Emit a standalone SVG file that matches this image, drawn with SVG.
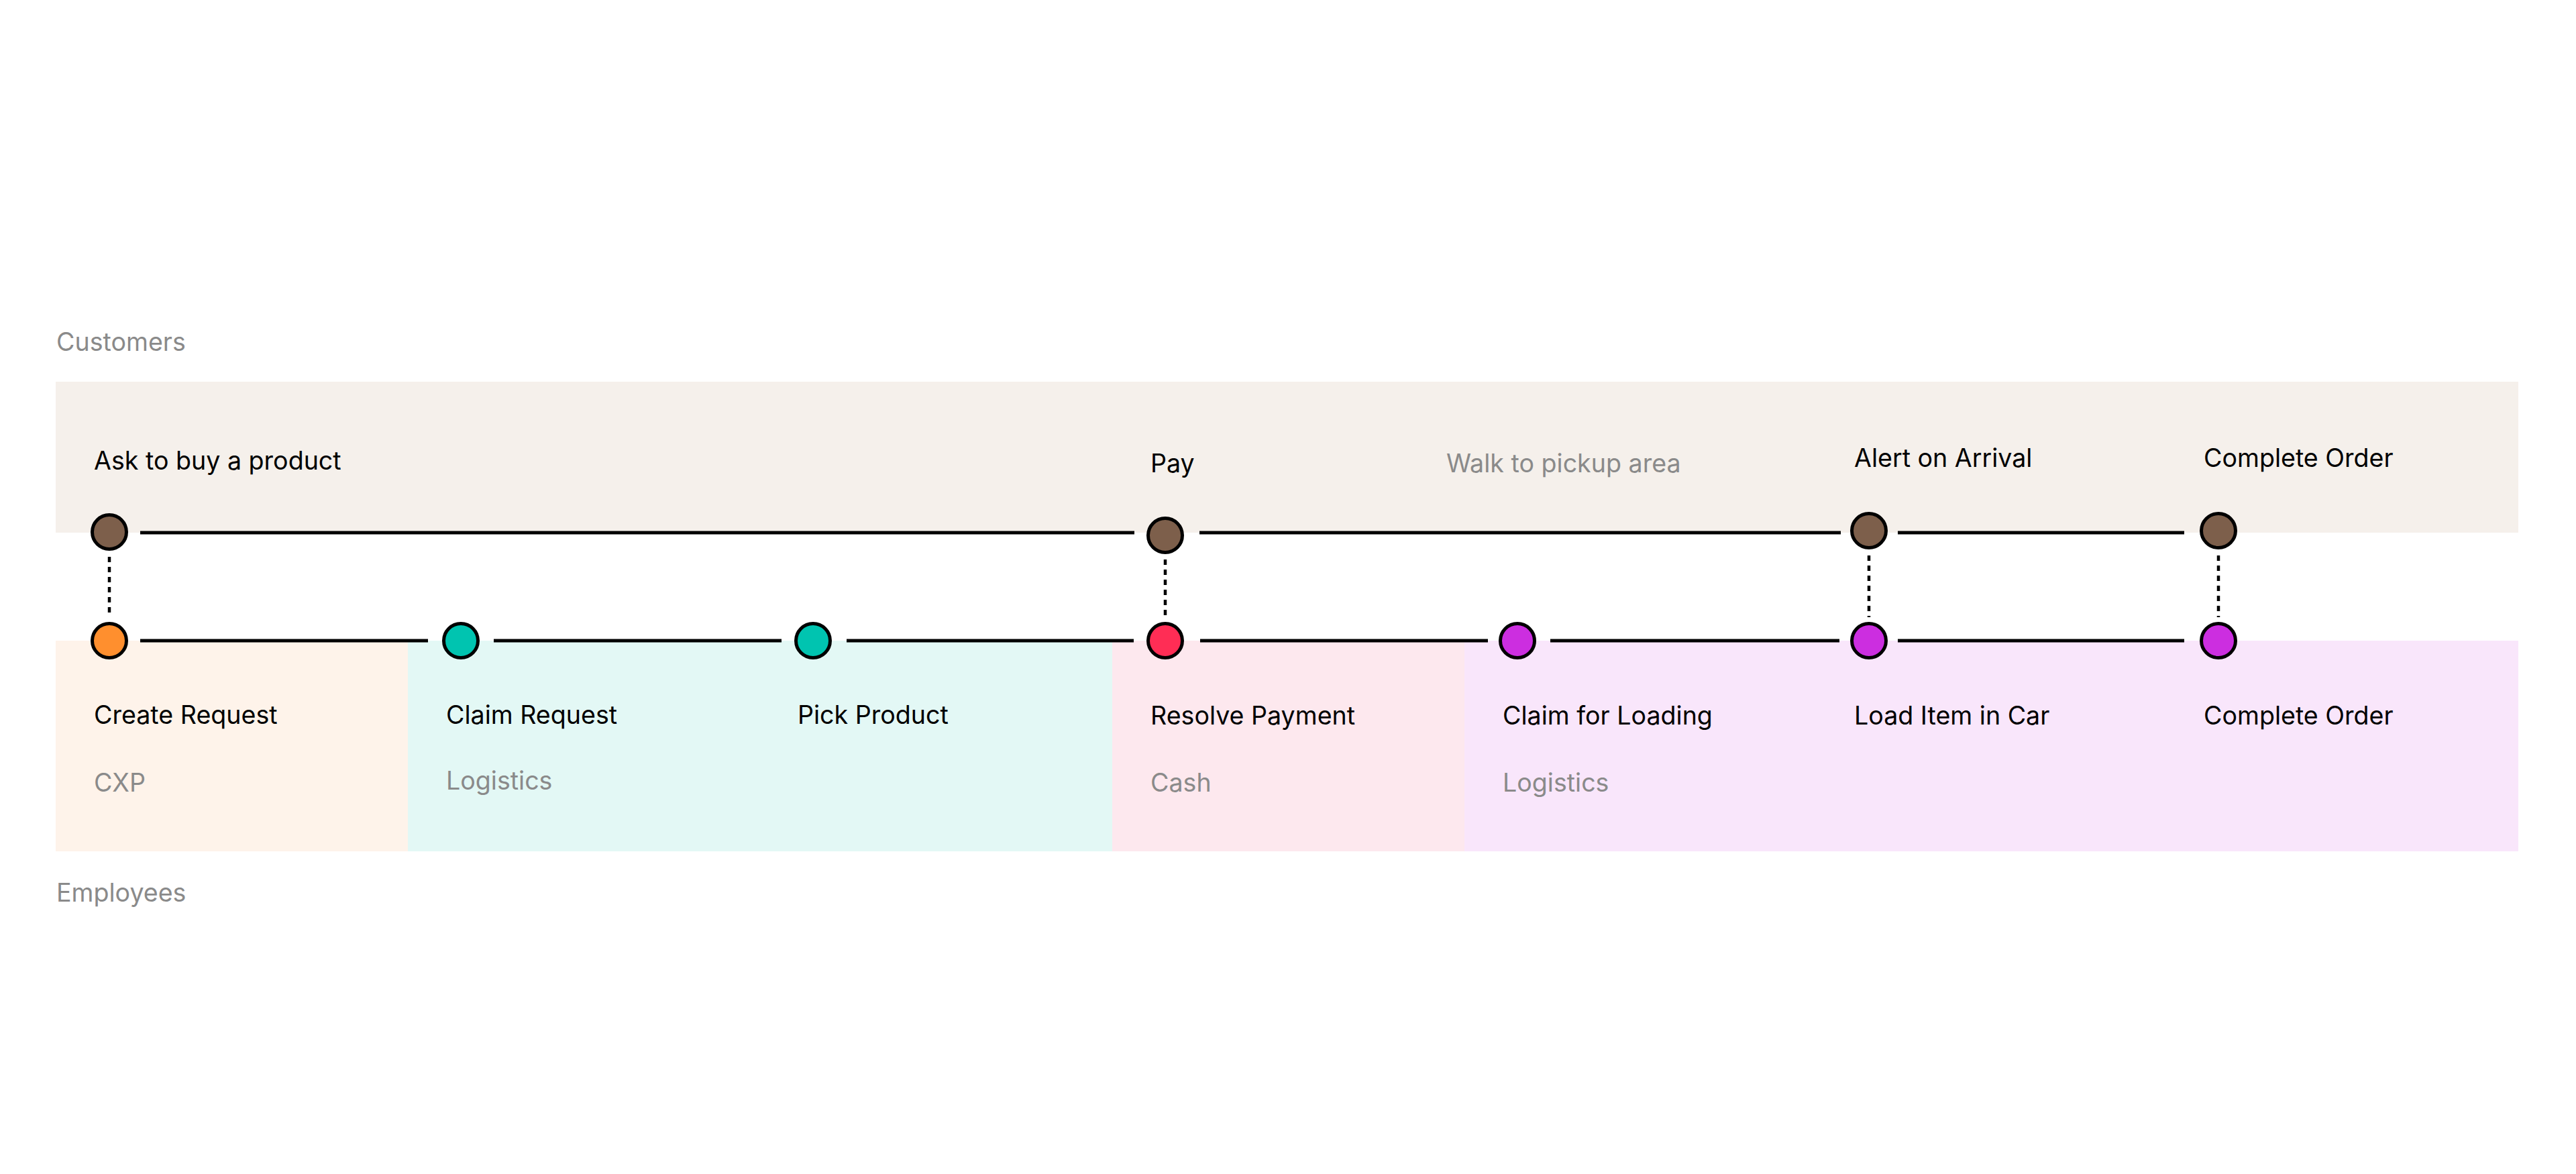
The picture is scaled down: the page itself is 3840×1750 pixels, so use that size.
<svg xmlns="http://www.w3.org/2000/svg" width="3840" height="1750" viewBox="0 0 3840 1750">
<style>
text{font-family:Inter,"Noto Sans","Liberation Sans",sans-serif;font-size:37.6px}
.t{fill:#000}
.g{fill:#8a8a8a}
.node circle{stroke:#000;stroke-width:5}
.brown{fill:#7D5F4B}.orange{fill:#FF8F2E}.teal{fill:#00C4B0}.red{fill:#FF2D55}.purple{fill:#CC2EE0}
.ln{stroke:#000;stroke-width:5;fill:none}
.dot{stroke:#000;stroke-width:4.5;stroke-dasharray:8 7;fill:none}
</style>
<rect width="3840" height="1750" fill="#fff"/>
<g id="lanes">
<rect x="83" y="569" width="3671" height="225" fill="#F5F0EB"/>
<rect x="83" y="955" width="525" height="314" fill="#FEF3EA"/>
<rect x="608" y="955" width="1050" height="314" fill="#E3F8F5"/>
<rect x="1658" y="955" width="525" height="314" fill="#FDE8EE"/>
<rect x="2183" y="955" width="1571" height="314" fill="#F9E6FB"/>
<text class="g" x="84" y="523">Customers</text>
<text class="g" x="84" y="1344">Employees</text>
</g>
<g id="connectors">
<line class="ln" x1="209" y1="794" x2="1691" y2="794"/>
<line class="ln" x1="1788" y1="794" x2="2744" y2="794"/>
<line class="ln" x1="2829" y1="794" x2="3256" y2="794"/>
<line class="ln" x1="209" y1="955" x2="638" y2="955"/>
<line class="ln" x1="736" y1="955" x2="1165" y2="955"/>
<line class="ln" x1="1262" y1="955" x2="1690" y2="955"/>
<line class="ln" x1="1789" y1="955" x2="2218" y2="955"/>
<line class="ln" x1="2311" y1="955" x2="2742" y2="955"/>
<line class="ln" x1="2829" y1="955" x2="3256" y2="955"/>
<line class="dot" x1="163" y1="830" x2="163" y2="920"/>
<line class="dot" x1="1737" y1="834" x2="1737" y2="920"/>
<line class="dot" x1="2786" y1="828" x2="2786" y2="920"/>
<line class="dot" x1="3307" y1="828" x2="3307" y2="920"/>
</g>
<g id="c-ask" class="node"><circle class="brown" cx="163" cy="793" r="25.5"/><text class="t" x="140" y="700">Ask to buy a product</text></g>
<g id="c-pay" class="node"><circle class="brown" cx="1737" cy="798" r="25.5"/><text class="t" x="1715" y="704">Pay</text></g>
<g id="c-walk"><text class="g" x="2156" y="704">Walk to pickup area</text></g>
<g id="c-alert" class="node"><circle class="brown" cx="2786" cy="791" r="25.5"/><text class="t" x="2764" y="696">Alert on Arrival</text></g>
<g id="c-complete" class="node"><circle class="brown" cx="3307" cy="791" r="25.5"/><text class="t" x="3285" y="696">Complete Order</text></g>
<g id="e-create" class="node"><circle class="orange" cx="163" cy="955" r="25.5"/><text class="t" x="140" y="1079">Create Request</text><text class="g" x="140" y="1180">CXP</text></g>
<g id="e-claim" class="node"><circle class="teal" cx="687" cy="955" r="25.5"/><text class="t" x="665" y="1079">Claim Request</text><text class="g" x="665" y="1177">Logistics</text></g>
<g id="e-pick" class="node"><circle class="teal" cx="1212" cy="955" r="25.5"/><text class="t" x="1189" y="1079">Pick Product</text></g>
<g id="e-resolve" class="node"><circle class="red" cx="1737" cy="955" r="25.5"/><text class="t" x="1715" y="1080">Resolve Payment</text><text class="g" x="1715" y="1180">Cash</text></g>
<g id="e-claimload" class="node"><circle class="purple" cx="2262" cy="955" r="25.5"/><text class="t" x="2240" y="1080">Claim for Loading</text><text class="g" x="2240" y="1180">Logistics</text></g>
<g id="e-load" class="node"><circle class="purple" cx="2786" cy="955" r="25.5"/><text class="t" x="2764" y="1080">Load Item in Car</text></g>
<g id="e-complete" class="node"><circle class="purple" cx="3307" cy="955" r="25.5"/><text class="t" x="3285" y="1080">Complete Order</text></g>
</svg>
